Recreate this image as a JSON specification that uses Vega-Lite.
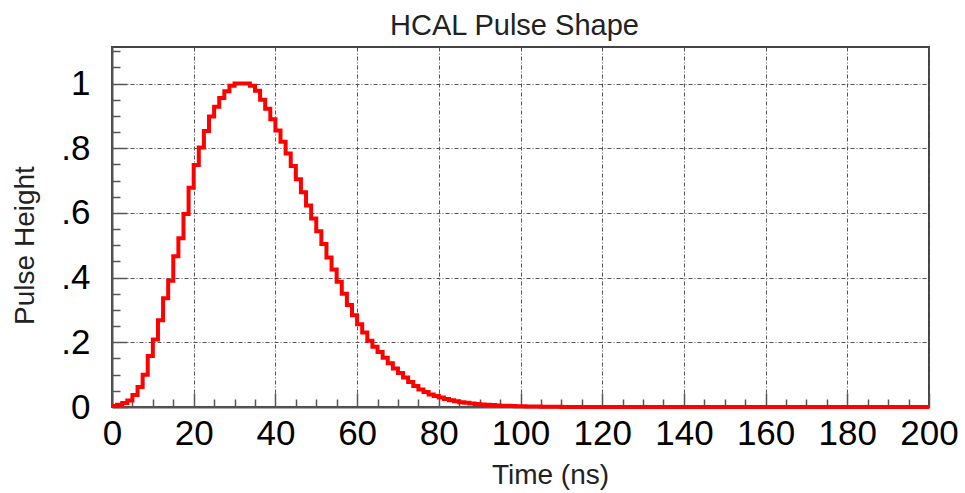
{
  "$schema": "https://vega.github.io/schema/vega-lite/v6.json",
  "width": 817,
  "height": 360,
  "autosize": {"type": "none"},
  "padding": {"left": 112, "top": 47, "right": 36, "bottom": 86},
  "background": "white",
  "title": {"text": "HCAL Pulse Shape", "fontSize": 29, "font": "Liberation Sans", "fontWeight": "normal", "color": "#222", "anchor": "middle", "offset": 9, "dx": -6, "dy": 16},
  "config": {
    "view": {"stroke": "#444", "strokeWidth": 2},
    "axis": {"labelFont": "Liberation Sans", "titleFont": "Liberation Sans", "titleFontWeight": "normal", "labelColor": "#000", "titleColor": "#222", "domainColor": "#555", "domainWidth": 2, "tickColor": "#555", "tickWidth": 1.5, "gridColor": "#555", "gridDash": [4, 2, 1, 2], "gridWidth": 1}
  },
  "data": {"values": [
    {"t": 0, "v": 0.003}, {"t": 1.25, "v": 0.007}, {"t": 2.5, "v": 0.012}, {"t": 3.75, "v": 0.02}, {"t": 5, "v": 0.037}, {"t": 6.25, "v": 0.062}, {"t": 7.5, "v": 0.1}, {"t": 8.75, "v": 0.158}, {"t": 10, "v": 0.209}, {"t": 11.25, "v": 0.268}, {"t": 12.5, "v": 0.336}, {"t": 13.75, "v": 0.39}, {"t": 15, "v": 0.466}, {"t": 16.25, "v": 0.522}, {"t": 17.5, "v": 0.597}, {"t": 18.75, "v": 0.678}, {"t": 20, "v": 0.748}, {"t": 21.25, "v": 0.802}, {"t": 22.5, "v": 0.853}, {"t": 23.75, "v": 0.898}, {"t": 25, "v": 0.928}, {"t": 26.25, "v": 0.955}, {"t": 27.5, "v": 0.976}, {"t": 28.75, "v": 0.993}, {"t": 30, "v": 1.0}, {"t": 31.25, "v": 1.0}, {"t": 32.5, "v": 1.0}, {"t": 33.75, "v": 0.993}, {"t": 35, "v": 0.978}, {"t": 36.25, "v": 0.95}, {"t": 37.5, "v": 0.922}, {"t": 38.75, "v": 0.89}, {"t": 40, "v": 0.855}, {"t": 41.25, "v": 0.82}, {"t": 42.5, "v": 0.784}, {"t": 43.75, "v": 0.745}, {"t": 45, "v": 0.704}, {"t": 46.25, "v": 0.664}, {"t": 47.5, "v": 0.623}, {"t": 48.75, "v": 0.583}, {"t": 50, "v": 0.543}, {"t": 51.25, "v": 0.504}, {"t": 52.5, "v": 0.462}, {"t": 53.75, "v": 0.425}, {"t": 55, "v": 0.387}, {"t": 56.25, "v": 0.35}, {"t": 57.5, "v": 0.315}, {"t": 58.75, "v": 0.284}, {"t": 60, "v": 0.256}, {"t": 61.25, "v": 0.23}, {"t": 62.5, "v": 0.205}, {"t": 63.75, "v": 0.186}, {"t": 65, "v": 0.17}, {"t": 66.25, "v": 0.152}, {"t": 67.5, "v": 0.135}, {"t": 68.75, "v": 0.119}, {"t": 70, "v": 0.105}, {"t": 71.25, "v": 0.091}, {"t": 72.5, "v": 0.077}, {"t": 73.75, "v": 0.065}, {"t": 75, "v": 0.054}, {"t": 76.25, "v": 0.046}, {"t": 77.5, "v": 0.039}, {"t": 78.75, "v": 0.034}, {"t": 80, "v": 0.029}, {"t": 81.25, "v": 0.025}, {"t": 82.5, "v": 0.021}, {"t": 83.75, "v": 0.018}, {"t": 85, "v": 0.015}, {"t": 86.25, "v": 0.013}, {"t": 87.5, "v": 0.011}, {"t": 88.75, "v": 0.009}, {"t": 90, "v": 0.008}, {"t": 91.25, "v": 0.007}, {"t": 92.5, "v": 0.006}, {"t": 93.75, "v": 0.005}, {"t": 95, "v": 0.004}, {"t": 96.25, "v": 0.0035}, {"t": 97.5, "v": 0.003}, {"t": 98.75, "v": 0.0025}, {"t": 100, "v": 0.002}, {"t": 101.25, "v": 0.0018}, {"t": 102.5, "v": 0.0015}, {"t": 103.75, "v": 0.0012}, {"t": 105, "v": 0.001}, {"t": 106.25, "v": 0.0008}, {"t": 107.5, "v": 0.0006}, {"t": 108.75, "v": 0.0004}, {"t": 110, "v": 0.0003},
    {"t": 111.25, "v": 0}, {"t": 112.5, "v": 0}, {"t": 113.75, "v": 0}, {"t": 115, "v": 0}, {"t": 116.25, "v": 0}, {"t": 117.5, "v": 0}, {"t": 118.75, "v": 0}, {"t": 120, "v": 0}, {"t": 121.25, "v": 0}, {"t": 122.5, "v": 0}, {"t": 123.75, "v": 0}, {"t": 125, "v": 0}, {"t": 126.25, "v": 0}, {"t": 127.5, "v": 0}, {"t": 128.75, "v": 0}, {"t": 130, "v": 0}, {"t": 131.25, "v": 0}, {"t": 132.5, "v": 0}, {"t": 133.75, "v": 0}, {"t": 135, "v": 0}, {"t": 136.25, "v": 0}, {"t": 137.5, "v": 0}, {"t": 138.75, "v": 0}, {"t": 140, "v": 0}, {"t": 141.25, "v": 0}, {"t": 142.5, "v": 0}, {"t": 143.75, "v": 0}, {"t": 145, "v": 0}, {"t": 146.25, "v": 0}, {"t": 147.5, "v": 0}, {"t": 148.75, "v": 0}, {"t": 150, "v": 0}, {"t": 151.25, "v": 0}, {"t": 152.5, "v": 0}, {"t": 153.75, "v": 0}, {"t": 155, "v": 0}, {"t": 156.25, "v": 0}, {"t": 157.5, "v": 0}, {"t": 158.75, "v": 0}, {"t": 160, "v": 0}, {"t": 161.25, "v": 0}, {"t": 162.5, "v": 0}, {"t": 163.75, "v": 0}, {"t": 165, "v": 0}, {"t": 166.25, "v": 0}, {"t": 167.5, "v": 0}, {"t": 168.75, "v": 0}, {"t": 170, "v": 0}, {"t": 171.25, "v": 0}, {"t": 172.5, "v": 0}, {"t": 173.75, "v": 0}, {"t": 175, "v": 0}, {"t": 176.25, "v": 0}, {"t": 177.5, "v": 0}, {"t": 178.75, "v": 0}, {"t": 180, "v": 0}, {"t": 181.25, "v": 0}, {"t": 182.5, "v": 0}, {"t": 183.75, "v": 0}, {"t": 185, "v": 0}, {"t": 186.25, "v": 0}, {"t": 187.5, "v": 0}, {"t": 188.75, "v": 0}, {"t": 190, "v": 0}, {"t": 191.25, "v": 0}, {"t": 192.5, "v": 0}, {"t": 193.75, "v": 0}, {"t": 195, "v": 0}, {"t": 196.25, "v": 0}, {"t": 197.5, "v": 0}, {"t": 198.75, "v": 0}, {"t": 200, "v": 0}
  ]},
  "mark": {"type": "line", "interpolate": "step-after", "color": "#ff0000", "strokeWidth": 4},
  "encoding": {
    "x": {
      "field": "t", "type": "quantitative",
      "scale": {"domain": [0, 200], "nice": false, "zero": false},
      "axis": {
        "title": "Time (ns)", "titleFontSize": 28, "titleX": 438, "titleY": 76, "titleBaseline": "alphabetic", "titleAlign": "center",
        "values": [0,5,10,15,20,25,30,35,40,45,50,55,60,65,70,75,80,85,90,95,100,105,110,115,120,125,130,135,140,145,150,155,160,165,170,175,180,185,190,195,200],
        "format": "d",
        "labelExpr": "datum.value % 20 === 0 ? datum.label : ''",
        "labelFontSize": 35, "labelPadding": 23, "labelFlush": false, "labelOverlap": false,
        "tickSize": {"condition": {"test": "datum.value % 20 === 0", "value": -14}, "value": -8},
        "grid": true,
        "gridOpacity": {"condition": {"test": "datum.value % 20 === 0", "value": 1}, "value": 0}
      }
    },
    "y": {
      "field": "v", "type": "quantitative",
      "scale": {"domain": [0, 1.113], "nice": false},
      "axis": {
        "title": "Pulse Height", "titleFontSize": 28, "titleX": -79, "titleY": 198, "titleAngle": -90, "titleBaseline": "alphabetic", "titleAlign": "center",
        "values": [0,0.05,0.1,0.15,0.2,0.25,0.3,0.35,0.4,0.45,0.5,0.55,0.6,0.65,0.7,0.75,0.8,0.85,0.9,0.95,1,1.05,1.1],
        "labelExpr": "round(datum.value*20) % 4 === 0 ? (datum.value === 0 ? '0' : datum.value === 1 ? '1' : replace(format(datum.value, '.1f'), '0.', '.')) : ''",
        "labelFontSize": 35, "labelPadding": 37, "labelOverlap": false,
        "tickSize": {"condition": {"test": "round(datum.value*20) % 4 === 0", "value": -15}, "value": -8},
        "grid": true,
        "gridOpacity": {"condition": {"test": "round(datum.value*20) % 4 === 0", "value": 1}, "value": 0}
      }
    }
  }
}
